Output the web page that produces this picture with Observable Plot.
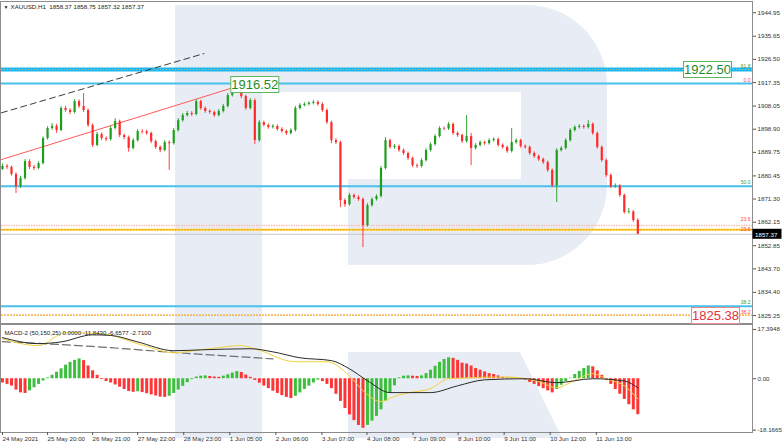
<!DOCTYPE html>
<html><head><meta charset="utf-8">
<script src="https://cdn.jsdelivr.net/npm/d3@7"></script>
<script src="https://cdn.jsdelivr.net/npm/@observablehq/plot@0.6"></script>
<style>
html,body{margin:0;padding:0;background:#fff;}
#chart{position:relative;width:782px;height:445px;overflow:hidden;font-family:"Liberation Sans",Arial,sans-serif;}
#chart svg{position:absolute;left:0;}
</style></head><body><div id="chart"></div>
<script>
// ---------------- DATA ----------------
const header = "XAUUSD,H1  1858.37 1858.75 1857.32 1857.37";
const macdTitle = "MACD-2 (50,150,25) 0.0000 -11.8430 -6.6577 -2.7100";

// candles: [open, high, low, close], one per bar slot
const candles = [
[1883.0,1885.2,1882.6,1884.2],[1884.2,1885.0,1883.0,1883.8],[1883.8,1884.3,1880.4,1881.0],[1881.0,1881.6,1873.5,1876.2],
[1876.2,1880.3,1875.5,1879.4],[1879.4,1886.9,1878.8,1886.1],[1886.1,1886.8,1883.0,1883.8],[1883.8,1884.6,1882.6,1883.4],
[1883.4,1886.0,1882.9,1885.3],[1885.3,1895.9,1884.8,1895.2],[1895.2,1899.9,1894.6,1899.2],[1899.2,1901.1,1898.5,1900.0],
[1900.0,1900.8,1897.3,1898.4],[1898.4,1907.9,1897.9,1907.1],[1907.1,1908.0,1905.6,1906.3],[1906.3,1907.0,1904.7,1905.5],
[1905.5,1910.6,1905.0,1909.8],[1909.8,1910.5,1907.1,1907.9],[1907.9,1913.0,1905.5,1906.3],[1906.3,1906.9,1899.6,1900.4],
[1900.4,1901.0,1891.7,1892.5],[1892.5,1897.6,1892.0,1896.8],[1896.8,1897.4,1894.4,1895.2],[1895.2,1895.9,1894.0,1894.8],
[1894.8,1900.0,1894.2,1899.2],[1899.2,1903.1,1898.6,1901.9],[1901.9,1902.5,1895.6,1896.4],[1896.4,1897.0,1894.8,1895.6],
[1895.6,1896.2,1889.8,1891.3],[1891.3,1895.2,1890.7,1894.4],[1894.4,1898.8,1893.8,1898.0],[1898.0,1898.7,1897.0,1897.8],
[1897.8,1898.5,1896.5,1897.2],[1897.2,1897.8,1893.2,1894.0],[1894.0,1894.6,1890.9,1891.7],[1891.7,1892.3,1889.6,1890.5],
[1890.5,1894.4,1890.0,1893.6],[1893.6,1894.3,1882.6,1893.2],[1893.2,1899.2,1892.6,1898.4],[1898.4,1903.1,1897.8,1902.3],
[1902.3,1905.1,1901.7,1904.3],[1904.3,1905.9,1903.7,1905.1],[1905.1,1905.8,1904.0,1904.7],[1904.7,1910.6,1904.2,1909.8],
[1909.8,1910.4,1906.4,1907.1],[1907.1,1907.7,1905.2,1905.9],[1905.9,1906.6,1904.8,1905.5],[1905.5,1906.1,1903.6,1904.3],
[1904.3,1906.7,1903.8,1905.9],[1905.9,1908.7,1905.3,1907.9],[1907.9,1913.0,1907.3,1912.2],[1912.2,1914.6,1911.6,1913.8],
[1913.8,1916.52,1913.2,1915.0],[1915.0,1915.6,1911.0,1911.8],[1911.8,1912.4,1906.4,1907.1],[1907.1,1911.0,1906.5,1910.2],
[1910.2,1910.8,1892.9,1894.4],[1894.4,1902.3,1893.8,1901.5],[1901.5,1902.1,1899.8,1900.4],[1900.4,1901.0,1898.9,1899.6],
[1899.6,1900.7,1899.0,1900.0],[1900.0,1900.6,1898.1,1898.8],[1898.8,1899.5,1897.3,1898.0],[1898.0,1898.6,1896.4,1897.2],
[1897.2,1899.1,1896.6,1898.4],[1898.4,1907.9,1897.8,1907.1],[1907.1,1909.0,1906.5,1908.3],[1908.3,1909.4,1907.7,1908.7],
[1908.7,1909.8,1908.1,1909.1],[1909.1,1910.2,1908.5,1909.5],[1909.5,1910.1,1908.0,1908.7],[1908.7,1909.3,1905.6,1906.3],
[1906.3,1906.9,1900.8,1901.5],[1901.5,1902.1,1893.2,1894.4],[1894.4,1895.2,1892.9,1893.6],[1893.6,1894.2,1867.9,1870.7],
[1870.7,1871.4,1868.0,1869.1],[1869.1,1873.5,1868.5,1872.7],[1872.7,1873.3,1871.2,1871.9],[1871.9,1872.6,1870.4,1871.1],
[1871.1,1871.7,1852.1,1860.8],[1860.8,1869.5,1860.2,1868.7],[1868.7,1871.8,1868.1,1871.1],[1871.1,1873.0,1870.5,1872.3],
[1872.3,1884.2,1871.7,1883.4],[1883.4,1895.6,1882.8,1894.4],[1894.4,1895.0,1891.0,1891.7],[1891.7,1892.9,1891.0,1892.1],
[1892.1,1892.7,1889.8,1890.5],[1890.5,1891.1,1888.6,1889.3],[1889.3,1889.9,1886.6,1887.3],[1887.3,1887.9,1883.8,1884.5],
[1884.5,1885.1,1883.4,1884.2],[1884.2,1887.2,1883.6,1886.5],[1886.5,1891.2,1885.9,1890.5],[1890.5,1893.5,1889.9,1892.8],
[1892.8,1896.7,1892.2,1896.0],[1896.0,1899.9,1895.4,1899.2],[1899.2,1899.8,1898.4,1899.0],[1899.0,1901.6,1898.4,1900.8],
[1900.8,1901.4,1896.5,1897.2],[1897.2,1897.8,1895.7,1896.4],[1896.4,1897.0,1893.3,1894.0],[1894.0,1904.3,1893.4,1896.0],
[1896.0,1897.2,1884.5,1891.3],[1891.3,1893.2,1890.7,1892.5],[1892.5,1894.3,1891.9,1893.6],[1893.6,1894.2,1892.5,1893.2],
[1893.2,1895.1,1892.6,1894.4],[1894.4,1895.5,1893.8,1894.8],[1894.8,1895.4,1891.8,1892.5],[1892.5,1893.1,1891.0,1891.7],
[1891.7,1892.3,1889.4,1890.1],[1890.1,1899.2,1889.5,1893.6],[1893.6,1895.1,1893.0,1894.4],[1894.4,1895.0,1891.4,1892.1],
[1892.1,1892.7,1891.0,1891.7],[1891.7,1892.3,1888.6,1889.3],[1889.3,1889.9,1887.4,1888.1],[1888.1,1888.7,1886.2,1886.9],
[1886.9,1887.5,1885.0,1885.7],[1885.7,1886.3,1881.9,1882.6],[1882.6,1883.2,1875.8,1876.6],[1876.6,1891.2,1869.9,1890.5],
[1890.5,1892.0,1889.9,1891.3],[1891.3,1895.1,1890.7,1894.4],[1894.4,1899.1,1893.8,1898.4],[1898.4,1900.3,1897.8,1899.6],
[1899.6,1900.7,1899.0,1900.0],[1900.0,1900.6,1898.9,1899.6],[1899.6,1902.3,1899.0,1900.8],[1900.8,1901.4,1896.5,1897.2],
[1897.2,1897.8,1891.0,1891.7],[1891.7,1892.3,1885.8,1886.5],[1886.5,1887.1,1879.9,1880.6],[1880.6,1881.2,1875.5,1876.2],
[1876.2,1877.3,1875.6,1876.4],[1876.4,1877.0,1872.0,1872.7],[1872.7,1873.3,1865.3,1866.0],[1866.0,1867.5,1865.4,1866.2],
[1866.2,1866.8,1862.1,1862.8],[1862.8,1863.5,1857.32,1857.37]
];

// MACD histogram, one value per bar slot
const macdHist = [
-1.5,-2.0,-2.6,-4.0,-5.0,-5.2,-4.3,-3.2,-2.0,-0.8,0.3,1.2,2.3,3.5,4.8,5.8,6.5,7.0,6.4,4.5,
2.8,1.2,-0.3,-1.0,-1.5,-2.2,-3.0,-3.8,-4.5,-4.8,-4.6,-4.9,-5.3,-5.7,-6.1,-6.5,-6.6,-6.2,-5.2,-4.0,
-2.7,-1.4,-0.3,0.6,0.9,1.0,0.8,0.6,0.5,0.9,1.4,2.0,2.5,2.2,1.3,0.5,-0.6,-1.6,-2.6,-3.5,
-4.4,-5.2,-6.0,-6.6,-7.0,-6.2,-5.0,-3.8,-2.6,-1.5,-0.5,-1.0,-2.0,-3.5,-5.5,-8.0,-10.5,-12.8,-14.8,-16.5,
-17.5,-16.5,-15.0,-13.3,-11.0,-8.0,-5.2,-2.5,0.3,0.9,1.0,0.9,0.8,1.0,1.8,3.0,4.4,5.8,6.8,7.4,
7.2,6.5,5.5,5.2,4.5,3.6,3.0,2.4,1.8,1.5,1.0,0.5,0.3,0.4,0.3,0.1,-0.5,-1.3,-2.0,-2.8,
-3.5,-4.3,-5.0,-3.8,-2.3,-1.0,0.2,1.5,2.6,3.6,4.5,4.2,2.8,1.2,-0.5,-2.0,-3.8,-5.5,-7.3,-9.2,
-11.0,-12.7
];
// MACD lines: [bar slot, value]
const macdMain = [[0,14.5],[8,12.4],[13,13.0],[20,15.5],[24,15.3],[30,13.0],[38,9.9],[44,10.2],[55,10.6],[60,9.5],[66,7.4],[73,6.4],[77,3.5],[81,-0.7],[86,-4.9],[95,-4.9],[101,-2.5],[107,-0.4],[116,0],[123,-1.4],[131,0],[138,-0.8],[141,-3.2]];
const macdSignal = [[0,14.1],[8,11.7],[14,16.3],[22,15.9],[31,11.9],[38,9.2],[44,10.2],[53,11.7],[56,10.6],[65,6.0],[72,6.0],[77,1.0],[80,-4.2],[84,-8.1],[87,-6.2],[90,-5.0],[95,-3.5],[99,0],[112,0.6],[119,-1.0],[123,-3.2],[126,-1.4],[131,1.8],[134,0],[138,-2.5],[141,-7.1]];
const macdDashed = [[0,13.1],[20,11.4],[38,9.3],[60,7.0]];

// axes
const priceTicks = [1944.95,1935.65,1926.50,1917.35,1908.05,1898.90,1889.75,1880.45,1871.30,1862.15,1852.85,1843.70,1834.40,1825.25];
const macdTicks = [17.3948, 0, -18.1665];
const timeTickSlots = [-0.22,9.78,19.78,29.78,40.0,50.22,60.44,70.67,80.67,90.89,100.89,111.11,121.33,131.56];
const timeLabels = ["24 May 2021","25 May 20:00","26 May 21:00","27 May 22:00","28 May 23:00","1 Jun 05:00","2 Jun 06:00","3 Jun 07:00","4 Jun 08:00","7 Jun 09:00","8 Jun 10:00","9 Jun 11:00","10 Jun 12:00","11 Jun 13:00"];

// Fibonacci levels
const fibPrices = [1922.50, 1917.0, 1876.4, 1860.8, 1859.2, 1828.9, 1825.38];
const fibLabels = ["61.8","0.0","50.0","23.6","23.6","38.2","38.2"];
// trend lines: [bar slot, price]
const trendRed = [[-0.22,1886.9],[51.3,1915.4]];
const trendDashed = [[-0.22,1905.4],[44.7,1928.8]];
const lastPrice = 1857.37;
const calloutPrices = [1922.50, 1825.38, 1916.52];

// ---------------- STYLES ----------------
const FONT = "Liberation Sans, Arial, sans-serif";
const GREEN = "#1f9d1f", RED = "#ff2b2b";
const CYAN = "#1cb7ef", CYAN2 = "#46c0ec";
const fibStyle = [
  {stroke: CYAN, w: 4, label: "#3a9a3a", dy: -3.5},
  {stroke: CYAN2, w: 2, label: "#ff4040", dy: -3.5},
  {stroke: CYAN2, w: 2, label: "#3a9a3a", dy: -3.5},
  {stroke: "#f7c1b4", w: 1.5, dash: "1.5,1", label: "#ff4040", dy: -6.5},
  {stroke: "#ffd12e", w: 2, label: "#ff4040", dy: -0.5},
  {stroke: CYAN2, w: 2, label: "#3a9a3a", dy: -3.5},
  {stroke: "#f5a623", w: 1.3, dash: "2,1", label: "#ff4040", dy: -3}
];
const xDomain = [-0.22, 166.45];
const ns = "http://www.w3.org/2000/svg";
function el(tag, attrs, text) {
  const e = document.createElementNS(ns, tag);
  for (const k in attrs) e.setAttribute(k, attrs[k]);
  if (text != null) e.textContent = text;
  return e;
}
function callout(price, color, border, place) {
  return (index, scales, values, dims) => {
    const y = scales.y(price);
    const w = 48, h = 16;
    const x0 = place.right != null ? dims.width - dims.marginRight - place.right - w : scales.x(place.slot) - place.off;
    const g = el("g", {});
    g.appendChild(el("rect", {x: x0 + 0.5, y: Math.round(y - h / 2) + 0.5, width: w, height: h, fill: "white", stroke: border, "stroke-width": 1}));
    g.appendChild(el("text", {x: x0 + w / 2 + 0.5, y: y + 0.5, "text-anchor": "middle", "dominant-baseline": "central", "font-size": 13, "font-family": FONT, fill: color}, price.toFixed(2)));
    return g;
  };
}
function priceTag(index, scales, values, dims) {
  const y = scales.y(lastPrice);
  const x0 = dims.width - dims.marginRight + 0.5;
  const g = el("g", {});
  g.appendChild(el("rect", {x: x0, y: y - 5, width: 29, height: 10, fill: "#000"}));
  g.appendChild(el("text", {x: x0 + 2.5, y: y + 0.3, "text-anchor": "start", "dominant-baseline": "central", "font-size": 6.2, "font-family": FONT, fill: "#fff"}, lastPrice.toFixed(2)));
  return g;
}

// ---------------- BACKGROUND (watermark + frame) ----------------
const root = document.getElementById("chart");
const bg = d3.create("svg").attr("width", 782).attr("height", 445).style("top", "0px");
const wm = "#e8ecf4";
bg.append("rect").attr("x", 175).attr("y", 5).attr("width", 87).attr("height", 433).attr("fill", wm);
bg.append("path").attr("d", "M262,5H527A80,80 0 0 1 607,85V185A80,80 0 0 1 527,265H348V179H521V92H262Z").attr("fill", wm);
bg.append("path").attr("d", "M348,352H520L562,438H348Z").attr("fill", wm);
const fr = bg.append("g").attr("stroke", "#8c8c8c").attr("fill", "none");
fr.append("line").attr("x1", 0).attr("x2", 753).attr("y1", 1.5).attr("y2", 1.5);
fr.append("line").attr("x1", 0.5).attr("x2", 0.5).attr("y1", 1).attr("y2", 433);
fr.append("line").attr("x1", 752.5).attr("x2", 752.5).attr("y1", 1).attr("y2", 433);
fr.append("line").attr("x1", 0).attr("x2", 753).attr("y1", 324).attr("y2", 324).attr("stroke-width", 2);
fr.append("line").attr("x1", 0).attr("x2", 753).attr("y1", 432.5).attr("y2", 432.5);
root.appendChild(bg.node());

// ---------------- MAIN PRICE PANEL ----------------
const bars = candles.map(([o, h, l, c], i) => ({i, o, h, l, c, up: c >= o}));
const fibs = fibPrices.map((p, k) => ({p, t: fibLabels[k], s: fibStyle[k]}));
const txt = {fontFamily: FONT};
const main = Plot.plot({
  width: 782, height: 325, marginTop: 3, marginBottom: 2, marginLeft: 1, marginRight: 30,
  style: {background: "transparent", fontFamily: FONT, fontSize: "6.2px", color: "#333", overflow: "visible"},
  x: {domain: xDomain, axis: null, label: null},
  y: {domain: [1822.1, 1948.6], axis: null, label: null},
  marks: [
    ...fibs.map(f => Plot.ruleY([f.p], {stroke: f.s.stroke, strokeWidth: f.s.w, strokeDasharray: f.s.dash})),
    Plot.ruleY([fibPrices[0]], {stroke: "#b9c59a", strokeWidth: 1, strokeDasharray: "1,2"}),
    Plot.ruleY([fibPrices[4]], {stroke: "#f08a00", strokeWidth: 0.8, strokeDasharray: "1.5,1.5"}),
    Plot.ruleY([lastPrice], {stroke: "#c8c8c8", strokeWidth: 1}),
    Plot.line(trendRed, {x: d => d[0], y: d => d[1], stroke: "#ff5a5a", strokeWidth: 1}),
    Plot.line(trendDashed, {x: d => d[0], y: d => d[1], stroke: "#3a3a3a", strokeWidth: 1, strokeDasharray: "6,4"}),
    Plot.ruleX(bars.filter(d => d.up), {x: "i", y1: "l", y2: "h", stroke: GREEN, strokeWidth: 0.9}),
    Plot.ruleX(bars.filter(d => !d.up), {x: "i", y1: "l", y2: "h", stroke: RED, strokeWidth: 0.9}),
    Plot.ruleX(bars.filter(d => d.up), {x: "i", y1: "o", y2: "c", stroke: GREEN, strokeWidth: 2.2}),
    Plot.ruleX(bars.filter(d => !d.up), {x: "i", y1: "o", y2: "c", stroke: RED, strokeWidth: 2.2}),
    ...fibs.map(f => Plot.text([f], {x: xDomain[1], y: "p", text: "t", fill: f.s.label, dy: f.s.dy, textAnchor: "end", dx: -2, fontSize: 5, ...txt})),
    Plot.axisY(priceTicks, {anchor: "right", tickSize: 3, tickPadding: 2, tickFormat: d => d.toFixed(2), fontSize: 6.2, stroke: "#555", label: null}),
    Plot.text(["\u25BC"], {frameAnchor: "top-left", dx: 2, dy: 3.5, fontSize: 5, fill: "#222", textAnchor: "start", lineAnchor: "middle"}),
    Plot.text([header], {frameAnchor: "top-left", dx: 9, dy: 3.5, fontSize: 6.2, fill: "#222", textAnchor: "start", lineAnchor: "middle", ...txt}),
    callout(calloutPrices[0], "#1e8c1e", "#5cb85c", {right: 21}),
    callout(calloutPrices[1], "#e8303a", "#f08a8a", {right: 13}),
    callout(calloutPrices[2], "#1e8c1e", "#5cb85c", {slot: 52, off: 6}),
    priceTag
  ]
});
main.style.top = "0px";
root.appendChild(main);

// ---------------- MACD PANEL ----------------
const hist = macdHist.map((v, i) => ({i, v, up: i > 0 && v >= macdHist[i - 1]}));
const tickLabel = new Map(timeTickSlots.map((s, k) => [s, timeLabels[k]]));
const macd = Plot.plot({
  width: 782, height: 120, marginTop: 2, marginBottom: 13, marginLeft: 1, marginRight: 30,
  style: {background: "transparent", fontFamily: FONT, fontSize: "6.2px", color: "#333", overflow: "visible"},
  x: {domain: xDomain, axis: null, label: null},
  y: {domain: [-19.0, 18.1], axis: null, label: null},
  marks: [
    Plot.ruleX(hist.filter(d => d.up), {x: "i", y1: 0, y2: "v", stroke: "#3cbf3c", strokeWidth: 3}),
    Plot.ruleX(hist.filter(d => !d.up), {x: "i", y1: 0, y2: "v", stroke: "#ff3535", strokeWidth: 3}),
    Plot.line(macdDashed, {x: d => d[0], y: d => d[1], stroke: "#6e6e6e", strokeWidth: 1.2, strokeDasharray: "8,4", curve: "monotone-x"}),
    Plot.line(macdSignal, {x: d => d[0], y: d => d[1], stroke: "#f2d23c", strokeWidth: 1, curve: "monotone-x"}),
    Plot.line(macdMain, {x: d => d[0], y: d => d[1], stroke: "#2a2a2a", strokeWidth: 1, curve: "monotone-x"}),
    Plot.axisY(macdTicks, {anchor: "right", tickSize: 3, tickPadding: 2, tickFormat: d => d === 0 ? "0.00" : d.toFixed(4), fontSize: 6.2, stroke: "#555", label: null}),
    Plot.axisX(timeTickSlots, {anchor: "bottom", tickSize: 3, tickPadding: 1.5, tickFormat: d => tickLabel.get(d), textAnchor: "start", dx: 1, fontSize: 6.2, stroke: "#555", label: null}),
    Plot.text([macdTitle], {frameAnchor: "top-left", dx: 3, dy: 3, fontSize: 6.1, fill: "#222", textAnchor: "start", lineAnchor: "top", ...txt})
  ]
});
macd.style.top = "325px";
root.appendChild(macd);
</script></body></html>
